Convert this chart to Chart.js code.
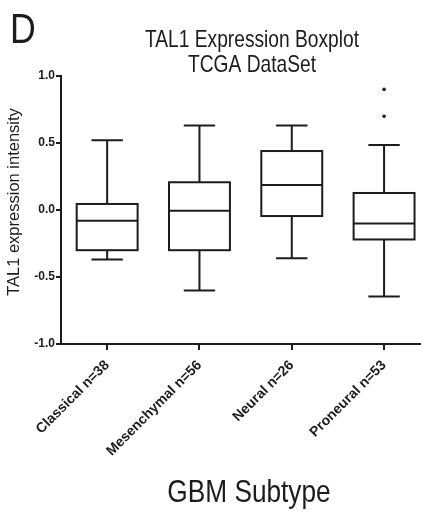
<!DOCTYPE html>
<html><head><meta charset="utf-8">
<script src="https://cdn.jsdelivr.net/npm/chart.js@4.4.1/dist/chart.umd.min.js"></script>
<style>html,body{margin:0;padding:0;background:#fff;overflow:hidden}#wrap{width:421px;height:512px;position:relative}</style>
</head><body><div id="wrap"><canvas id="c" width="421" height="512"></canvas></div>
<script>
// ---- data ----
const categories = ['Classical n=38', 'Mesenchymal n=56', 'Neural n=26', 'Proneural n=53'];
const whiskerLow  = [-0.37, -0.60, -0.36, -0.645];
const quartile1   = [-0.30, -0.30, -0.045, -0.22];
const median      = [-0.08, -0.005, 0.187, -0.10];
const quartile3   = [0.045, 0.207, 0.44, 0.127];
const whiskerHigh = [0.52, 0.63, 0.63, 0.485];
const outlierCategory = [3, 3];
const outlierValue    = [0.90, 0.70];
const yTicks = [-1.0, -0.5, 0.0, 0.5, 1.0];
const panelLetter = 'D';
const titleLines = ['TAL1 Expression Boxplot', 'TCGA DataSet'];
const xTitle = 'GBM Subtype';
const yTitle = 'TAL1 expression intensity';

const INK = '#1c1c1c';
const SANS = '"Liberation Sans", Arial, sans-serif';
const BOX_W = 0.66, CAP_W = 0.34;

const boxPlugin = {
  id: 'boxes',
  beforeDatasetsDraw(chart) {
    const {ctx, scales: {x, y}} = chart;
    ctx.save();
    ctx.strokeStyle = INK;
    ctx.lineWidth = 2;
    ctx.fillStyle = '#fff';
    categories.forEach((c, i) => {
      const cx = x.getPixelForValue(i);
      const l = x.getPixelForValue(i - BOX_W / 2), r = x.getPixelForValue(i + BOX_W / 2);
      const cl = x.getPixelForValue(i - CAP_W / 2), cr = x.getPixelForValue(i + CAP_W / 2);
      const yq1 = y.getPixelForValue(quartile1[i]), yq3 = y.getPixelForValue(quartile3[i]);
      const ymed = y.getPixelForValue(median[i]);
      const ylo = y.getPixelForValue(whiskerLow[i]), yhi = y.getPixelForValue(whiskerHigh[i]);
      ctx.beginPath();
      ctx.moveTo(cx, yq3); ctx.lineTo(cx, yhi);
      ctx.moveTo(cl, yhi); ctx.lineTo(cr, yhi);
      ctx.moveTo(cx, yq1); ctx.lineTo(cx, ylo);
      ctx.moveTo(cl, ylo); ctx.lineTo(cr, ylo);
      ctx.stroke();
      ctx.fillRect(l, yq3, r - l, yq1 - yq3);
      ctx.strokeRect(l, yq3, r - l, yq1 - yq3);
      ctx.beginPath();
      ctx.moveTo(l, ymed); ctx.lineTo(r, ymed);
      ctx.stroke();
    });
    ctx.restore();
  }
};

function narrowText(ctx, text, x, y, sx, align) {
  ctx.save();
  ctx.translate(x, y);
  ctx.scale(sx, 1);
  ctx.textAlign = align;
  ctx.fillText(text, 0, 0);
  ctx.restore();
}

const textPlugin = {
  id: 'texts',
  afterDraw(chart) {
    const ctx = chart.ctx;
    ctx.save();
    ctx.fillStyle = INK;
    ctx.textBaseline = 'alphabetic';
    ctx.font = '42px ' + SANS;
    narrowText(ctx, panelLetter, 10, 43, 0.85, 'left');
    ctx.font = '24px ' + SANS;
    narrowText(ctx, titleLines[0], 252, 47, 0.80, 'center');
    narrowText(ctx, titleLines[1], 252, 72, 0.80, 'center');
    ctx.font = '32px ' + SANS;
    narrowText(ctx, xTitle, 249, 502, 0.82, 'center');
    ctx.translate(19, 202);
    ctx.rotate(-Math.PI / 2);
    ctx.textAlign = 'center';
    ctx.font = '16.5px ' + SANS;
    ctx.fillText(yTitle, 0, 0);
    ctx.restore();
  }
};

new Chart(document.getElementById('c'), {
  type: 'scatter',
  data: {
    datasets: [{
      data: outlierValue.map((v, k) => ({x: outlierCategory[k], y: v})),
      pointRadius: 1.8,
      pointHoverRadius: 1.8,
      pointBackgroundColor: INK,
      pointBorderWidth: 0
    }]
  },
  options: {
    responsive: false,
    animation: false,
    events: [],
    layout: {autoPadding: false, padding: {top: 76, left: 0, right: 0, bottom: 0}},
    plugins: {legend: {display: false}, tooltip: {enabled: false}, title: {display: false}},
    scales: {
      x: {
        type: 'linear', min: -0.5, max: 3.4,
        afterBuildTicks: s => { s.ticks = categories.map((c, i) => ({value: i})); },
        afterFit: s => { s.height = 168; },
        grid: {display: true, drawOnChartArea: false, drawTicks: true, tickLength: 6, color: INK, lineWidth: 2},
        border: {display: true, color: INK, width: 2},
        ticks: {
          autoSkip: false, minRotation: 45, maxRotation: 45, padding: 7, color: INK,
          font: {family: SANS, size: 14, weight: 'bold'},
          callback: v => categories[v]
        }
      },
      y: {
        min: -1, max: 1,
        afterBuildTicks: s => { s.ticks = yTicks.map(v => ({value: v})); },
        afterFit: s => { s.width = 61; },
        grid: {display: true, drawOnChartArea: false, drawTicks: true, tickLength: 5, color: INK, lineWidth: 2},
        border: {display: true, color: INK, width: 2},
        ticks: {padding: 1, color: INK, font: {family: SANS, size: 12, weight: 'bold'}, callback: v => Number(v).toFixed(1)}
      }
    }
  },
  plugins: [boxPlugin, textPlugin]
});
</script></body></html>
